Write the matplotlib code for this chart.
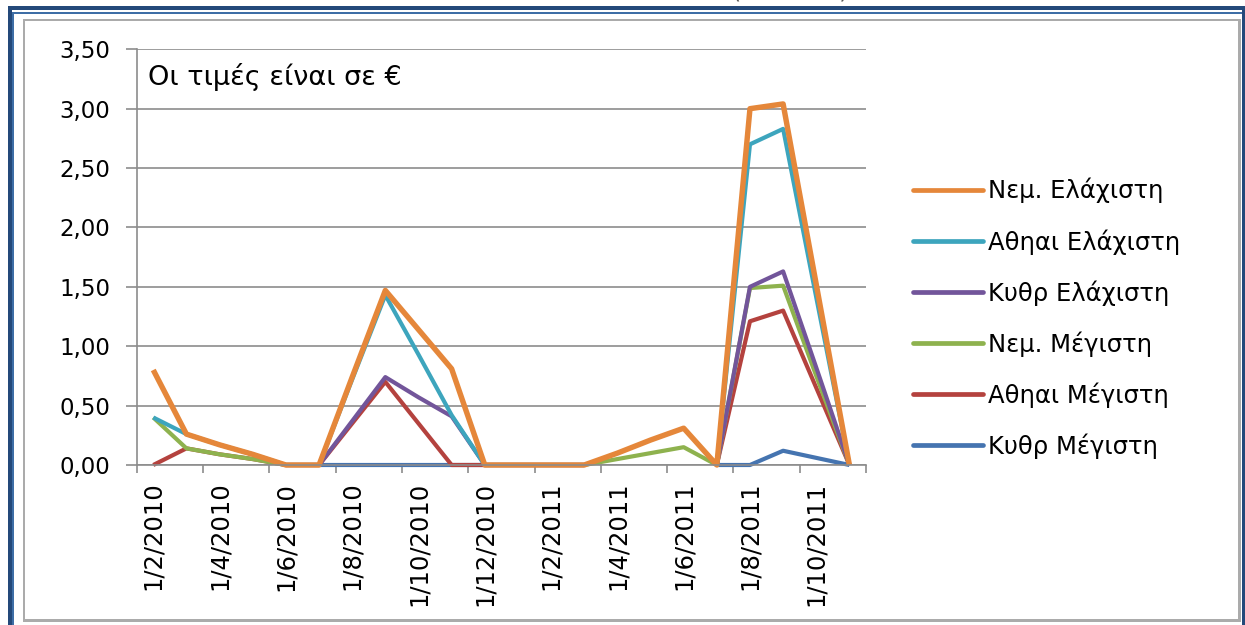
import numpy as np
import matplotlib
matplotlib.use('Agg')
import matplotlib.pyplot as plt
from matplotlib.lines import Line2D
from matplotlib.patches import Rectangle

nan = np.nan

# months from 1/2/2010 to 1/11/2011
months = ['1/2/2010', '1/3/2010', '1/4/2010', '1/5/2010', '1/6/2010', '1/7/2010',
          '1/8/2010', '1/9/2010', '1/10/2010', '1/11/2010', '1/12/2010', '1/1/2011',
          '1/2/2011', '1/3/2011', '1/4/2011', '1/5/2011', '1/6/2011', '1/7/2011',
          '1/8/2011', '1/9/2011', '1/10/2011', '1/11/2011']

nem_min = [0.80, 0.26, 0.17, 0.09, 0, 0, 0.74, 1.47, 1.14, 0.81, 0, 0,
           0, 0, 0.10, 0.21, 0.31, 0, 3.00, 3.04, 1.52, 0]
ath_min = [0.40, 0.26, 0.17, 0.09, 0, 0, 0.72, 1.43, 0.93, 0.42, 0, 0,
           0, 0, nan, nan, nan, 0, 2.70, 2.83, 1.41, 0]
kyth_min = [nan, nan, nan, nan, nan, 0, 0.37, 0.74, 0.57, 0.41, 0, 0,
            0, 0, nan, nan, nan, 0, 1.50, 1.63, 0.82, 0]
nem_max = [0.40, 0.14, 0.09, 0.05, 0, nan, nan, nan, nan, nan, nan, nan,
           nan, 0, 0.05, 0.10, 0.15, 0, 1.49, 1.51, 0.75, 0]
ath_max = [0, 0.14, 0.09, 0.05, 0, 0, 0.35, 0.70, 0.35, 0, 0, 0,
           0, 0, nan, nan, nan, 0, 1.21, 1.30, 0.65, 0]
kyth_max = [nan, nan, nan, nan, 0, 0, 0, 0, 0, 0, 0, 0,
            0, 0, nan, nan, nan, 0, 0, 0.12, 0.06, 0]

labels = ['Νεμ. Ελάχιστη', 'Αθηαι Ελάχιστη', 'Κυθρ Ελάχιστη',
          'Νεμ. Μέγιστη', 'Αθηαι Μέγιστη', 'Κυθρ Μέγιστη']
series = [nem_min, ath_min, kyth_min, nem_max, ath_max, kyth_max]
colors = ['#E5873A', '#3DA5BD', '#72559A', '#8EB24E', '#B4423E', '#4574B0']
widths = [3.9, 3.0, 3.0, 3.0, 3.0, 3.0]

W, H = 1245, 625
fig = plt.figure(figsize=(W / 100, H / 100), dpi=100)

# frame around the chart (pixel coords)
def frame(x0, y0, x1, y1, color):
    fig.add_artist(Rectangle((x0 / W, 1 - y1 / H), (x1 - x0) / W, (y1 - y0) / H,
                             transform=fig.transFigure, color=color, lw=0))

frame(8, 6, 1245, 10, '#24497A')
frame(8, 6, 11.5, 625, '#24497A')
frame(12, 12, 1245, 13.5, '#3E6EA6')
frame(12, 12, 13.5, 625, '#3E6EA6')
frame(1242, 6, 1245, 625, '#24497A')
frame(23, 19, 1241, 21, '#ABABAB')
frame(23, 19, 25, 622, '#ABABAB')
frame(1238, 19, 1241, 622, '#ABABAB')
frame(23, 619, 1241, 622, '#ABABAB')

# chart title, cut off by the top edge as in the screenshot
fig.text(790 / W, 1 + 2 / H, '(2010-11)', fontsize=17, color='#555555',
         ha='center', va='baseline')

ax = fig.add_axes([136.7 / W, 1 - 465 / H, (866 - 136.7) / W, (465 - 49.3) / H])
x = np.arange(len(months))

for vals, c, lw in list(zip(series, colors, widths))[::-1]:
    ax.plot(x, vals, color=c, lw=lw, clip_on=False,
            solid_joinstyle='round', solid_capstyle='butt')

ax.set_xlim(-0.5, len(months) - 0.5)
ax.set_ylim(0, 3.5)

yt = np.arange(0, 3.51, 0.5)
ax.set_yticks(yt)
ax.set_yticklabels([f'{v:.2f}'.replace('.', ',') for v in yt], fontsize=16.5)
ax.yaxis.grid(True, color='#8C8C8C', lw=1.2)
ax.set_axisbelow(True)

ax.set_xticks(x[::2])
ax.set_xticklabels(months[::2], rotation=90, fontsize=17.5, va='top')
ax.set_xticks(np.arange(-0.5, len(months), 2), minor=True)
ax.tick_params(axis='x', which='major', length=0, pad=12)
ax.tick_params(axis='x', which='minor', length=6, width=1.2, color='#8C8C8C', direction='out')
ax.tick_params(axis='y', length=8, width=1.2, color='#8C8C8C', direction='out', pad=11)

for s in ['top', 'right']:
    ax.spines[s].set_visible(False)
for s in ['left', 'bottom']:
    ax.spines[s].set_color('#8C8C8C')
    ax.spines[s].set_linewidth(1.2)

ax.text(0.0155, 0.914, 'Οι τιμές είναι σε €', transform=ax.transAxes,
        fontsize=19.5, va='baseline', ha='left')

handles = [Line2D([], [], color=c, lw=3.4, solid_capstyle='round') for c in colors]
fig.legend(handles, labels, loc='upper left', bbox_to_anchor=(913 / W, 1 - 178 / H),
           frameon=False, fontsize=17.5, handlelength=2.9, handletextpad=0.2,
           labelspacing=1.05, borderpad=0, borderaxespad=0)

fig.savefig('out.png', dpi=100)
